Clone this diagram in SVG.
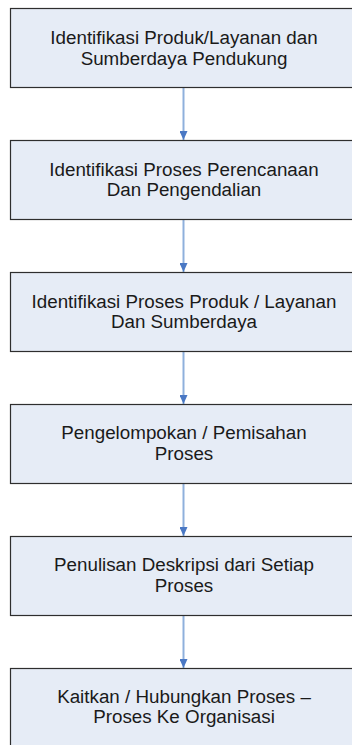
<svg xmlns="http://www.w3.org/2000/svg" width="352" height="745" viewBox="0 0 352 745">
  <style>
    .box { fill: #e6ecf6; stroke: #2e2e2e; stroke-width: 1.2; }
    .lbl { font-family: "Liberation Sans", Arial, sans-serif; font-size: 18.8px; fill: #1a1a1a; text-anchor: middle; }
    .conn { stroke: #8fb0dc; stroke-width: 2; fill: none; marker-end: url(#arr); }
  </style>
  <defs>
    <marker id="arr" markerUnits="userSpaceOnUse" markerWidth="10" markerHeight="8" refX="9" refY="4" orient="auto">
      <path d="M0,0 L9,4 L0,8 Z" fill="#4a78c4"/>
    </marker>
  </defs>
  <rect width="352" height="745" fill="#ffffff"/>
  <g id="connectors">
    <line class="conn" x1="183.5" y1="88" x2="183.5" y2="140"/>
    <line class="conn" x1="183.5" y1="220" x2="183.5" y2="272"/>
    <line class="conn" x1="183.5" y1="352" x2="183.5" y2="404"/>
    <line class="conn" x1="183.5" y1="484" x2="183.5" y2="536"/>
    <line class="conn" x1="183.5" y1="616" x2="183.5" y2="668"/>
  </g>
  <g id="n1">
    <rect class="box" x="10.5" y="8.5" width="400" height="79"/>
    <text class="lbl" x="184" y="44">Identifikasi Produk/Layanan dan</text>
    <text class="lbl" x="184" y="64.5">Sumberdaya Pendukung</text>
  </g>
  <g id="n2">
    <rect class="box" x="10.5" y="140.5" width="400" height="79"/>
    <text class="lbl" x="184" y="175.5">Identifikasi Proses Perencanaan</text>
    <text class="lbl" x="184" y="196">Dan Pengendalian</text>
  </g>
  <g id="n3">
    <rect class="box" x="10.5" y="272.5" width="400" height="79"/>
    <text class="lbl" x="184" y="307.5">Identifikasi Proses Produk / Layanan</text>
    <text class="lbl" x="184" y="328">Dan Sumberdaya</text>
  </g>
  <g id="n4">
    <rect class="box" x="10.5" y="404.5" width="400" height="79"/>
    <text class="lbl" x="184" y="439">Pengelompokan / Pemisahan</text>
    <text class="lbl" x="184" y="459.5">Proses</text>
  </g>
  <g id="n5">
    <rect class="box" x="10.5" y="536.5" width="400" height="79"/>
    <text class="lbl" x="184" y="571">Penulisan Deskripsi dari Setiap</text>
    <text class="lbl" x="184" y="591.5">Proses</text>
  </g>
  <g id="n6">
    <rect class="box" x="10.5" y="668.5" width="400" height="79"/>
    <text class="lbl" x="184" y="702.5">Kaitkan / Hubungkan Proses –</text>
    <text class="lbl" x="184" y="723">Proses Ke Organisasi</text>
  </g>
</svg>
